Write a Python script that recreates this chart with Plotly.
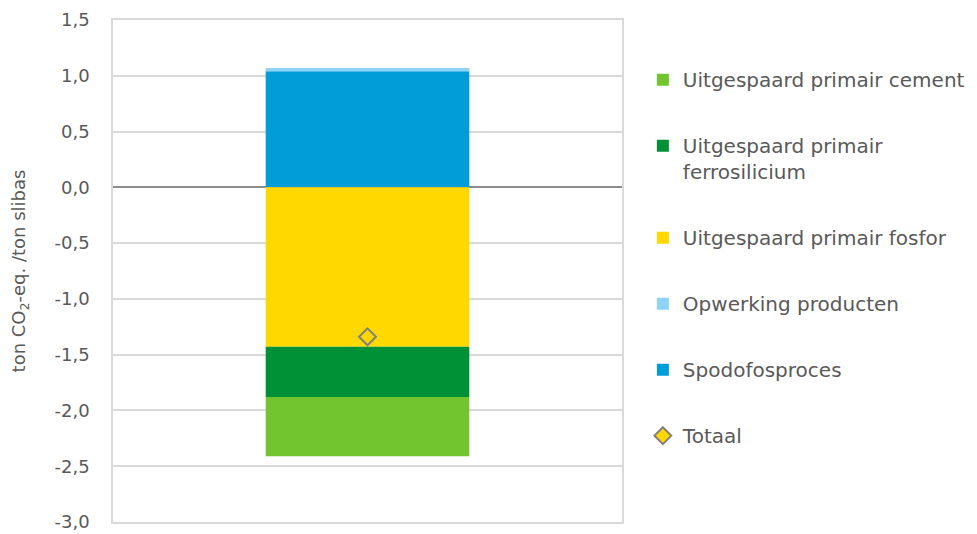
import plotly.graph_objects as go

# Emission balance per ton sludge ash (ton CO2-eq.)
category = [""]
spodofosproces = [1.04]
opwerking_producten = [0.03]
fosfor = [-1.43]
ferrosilicium = [-0.45]
cement = [-0.53]
totaal = [-1.34]

tick_vals = [1.5, 1.0, 0.5, 0.0, -0.5, -1.0, -1.5, -2.0, -2.5, -3.0]
tick_text = ["1,5", "1,0", "0,5", "0,0", "-0,5", "-1,0", "-1,5", "-2,0", "-2,5", "-3,0"]

TEXT = "#595959"
GRID = "#d9d9d9"
FONT = "DejaVu Sans"

fig = go.Figure()

# Total as diamond marker (scatter is always drawn above bars)
fig.add_trace(go.Scatter(
    x=category, y=totaal, name="Totaal", mode="markers",
    marker=dict(symbol="diamond", size=13, color="#FFD700",
                line=dict(color="#808080", width=2)),
    legendgroup="g6", legendrank=6,
))

# Stack order: first trace sits closest to zero
bars = [
    ("Spodofosproces", spodofosproces, "#009DD9", "g5", 5),
    ("Opwerking producten", opwerking_producten, "#8ED3F6", "g4", 4),
    ("Uitgespaard primair fosfor", fosfor, "#FFD800", "g3", 3),
    ("Uitgespaard primair<br>ferrosilicium", ferrosilicium, "#009035", "g2", 2),
    ("Uitgespaard primair cement", cement, "#72C52F", "g1", 1),
]
for name, vals, color, grp, rank in bars:
    fig.add_trace(go.Bar(
        x=category, y=vals, name=name, marker=dict(color=color, line=dict(width=0)),
        legendgroup=grp, legendrank=rank,
    ))

fig.update_layout(
    width=977, height=534,
    barmode="relative", bargap=0.6,
    paper_bgcolor="white", plot_bgcolor="white",
    margin=dict(l=113, r=355, t=20, b=12, autoexpand=False),
    font=dict(family=FONT, color=TEXT, size=18),
    showlegend=True,
    legend=dict(
        x=1.041, xanchor="left", y=0.92, yanchor="top",
        traceorder="grouped", tracegroupgap=37,
        font=dict(family=FONT, size=20, color=TEXT),
        valign="top", itemclick=False,
    ),
)

fig.update_xaxes(
    showticklabels=False, showgrid=False, zeroline=False,
    showline=True, linecolor=GRID, linewidth=1.5, mirror=True,
    range=[-0.5, 0.5],
)
fig.update_yaxes(
    range=[-3.0, 1.5], tickvals=tick_vals, ticktext=tick_text,
    showgrid=True, gridcolor=GRID, gridwidth=1.5,
    zeroline=True, zerolinecolor="#8c8c8c", zerolinewidth=1.5,
    showline=True, linecolor=GRID, linewidth=1.5, mirror=True,
    ticks="", ticklabelstandoff=18,
    tickfont=dict(family=FONT, size=18, color=TEXT),
    title=dict(text="ton CO<sub>2</sub>-eq. /ton slibas",
               font=dict(family=FONT, size=18, color=TEXT), standoff=24),
)

fig.write_html("out.html")
